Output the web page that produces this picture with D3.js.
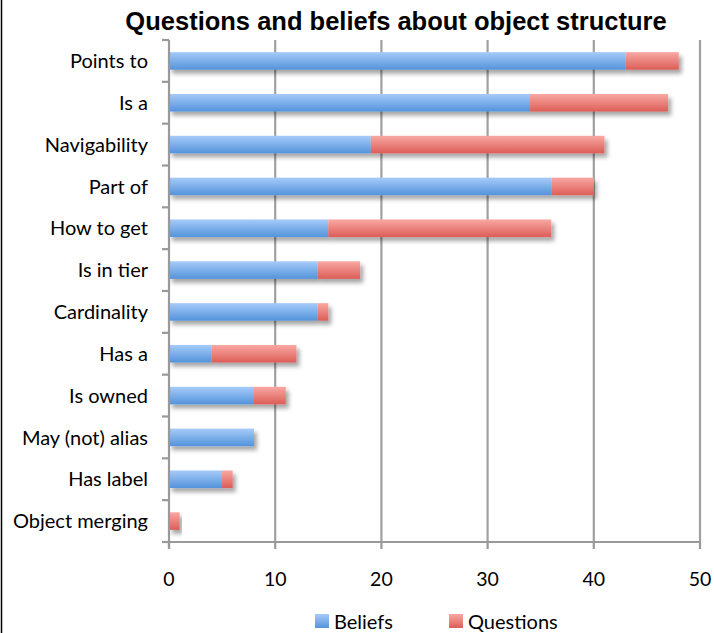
<!DOCTYPE html>
<html><head><meta charset="utf-8">
<script src="https://cdn.jsdelivr.net/npm/d3@7"></script>
<style>
html,body{margin:0;padding:0;background:#fff;}
svg{display:block;}
</style></head>
<body>
<script>
const categories = ["Points to","Is a","Navigability","Part of","How to get","Is in tier","Cardinality","Has a","Is owned","May (not) alias","Has label","Object merging"];
const beliefs =    [43, 34, 19, 36, 15, 14, 14, 4, 8, 8, 5, 0];
const questions =  [5, 13, 22, 4, 21, 4, 1, 8, 3, 0, 1, 1];
const seriesNames = ["Beliefs","Questions"];
const xTicks = [0,10,20,30,40,50];
const title = "Questions and beliefs about object structure";

const W = 714, H = 633;
const svg = d3.select("body").append("svg").attr("width", W).attr("height", H);
const defs = svg.append("defs");
function grad(id, c0, c1){
  const g = defs.append("linearGradient").attr("id", id).attr("x1",0).attr("y1",0).attr("x2",0).attr("y2",1);
  g.append("stop").attr("offset","0%").attr("stop-color", c0);
  g.append("stop").attr("offset","100%").attr("stop-color", c1);
}
grad("gBlue", "#a6cbfa", "#5393da");
grad("gRed", "#f9a8a3", "#dc5d57");
const f = defs.append("filter").attr("id","shadow").attr("x","-10%").attr("y","-50%").attr("width","130%").attr("height","250%");
f.append("feDropShadow").attr("dx",3).attr("dy",4).attr("stdDeviation",2.2).attr("flood-color","#000").attr("flood-opacity",0.35);

const pLeft = 169, pRight = 700, pTop = 40, pBottom = 542;
const x = d3.scaleLinear().domain([0,50]).range([pLeft,pRight]);
const y = d3.scaleBand().domain(categories).range([pTop,pBottom]).paddingInner(0.58).paddingOuter(0.29);

// left border frame line
svg.append("line").attr("x1",1.5).attr("x2",1.5).attr("y1",0).attr("y2",H).attr("stroke","#000").attr("stroke-width",1.5);

// title
svg.append("text").attr("x", 396).attr("y", 30).attr("text-anchor","middle")
  .attr("font-family","'Liberation Sans', Arial, sans-serif").attr("font-weight","bold").attr("font-size",25.5)
  .attr("fill","#000").text(title);

// gridlines
svg.append("g").selectAll("line").data(xTicks.slice(1)).join("line")
  .attr("x1", d=>x(d)).attr("x2", d=>x(d)).attr("y1", pTop).attr("y2", pBottom)
  .attr("stroke","#a0a0a0").attr("stroke-width",2.2);

// bars
const rows = svg.append("g").selectAll("g").data(categories).join("g").attr("filter","url(#shadow)");
rows.append("rect").attr("x", x(0)).attr("y", d=>y(d)).attr("height", y.bandwidth())
  .attr("width", (d,i)=>x(beliefs[i])-x(0)).attr("fill","url(#gBlue)");
rows.append("rect").attr("x", (d,i)=>x(beliefs[i])).attr("y", d=>y(d)).attr("height", y.bandwidth())
  .attr("width", (d,i)=>x(beliefs[i]+questions[i])-x(beliefs[i])).attr("fill","url(#gRed)");

// axes
const axisColor = "#999";
const bnds = categories.map((c,i)=> pTop + i*y.step()).concat([pBottom]);
svg.append("line").attr("x1", pLeft).attr("x2", pLeft).attr("y1", pTop).attr("y2", pBottom+7).attr("stroke",axisColor).attr("stroke-width",2.2);
svg.append("g").selectAll("line").data(bnds).join("line")
  .attr("x1", pLeft-7).attr("x2", pLeft).attr("y1", d=>d).attr("y2", d=>d).attr("stroke",axisColor).attr("stroke-width",2.2);
svg.append("line").attr("x1", pLeft-7).attr("x2", pRight).attr("y1", pBottom).attr("y2", pBottom).attr("stroke",axisColor).attr("stroke-width",2.2);
svg.append("g").selectAll("line").data(xTicks).join("line")
  .attr("x1", d=>x(d)).attr("x2", d=>x(d)).attr("y1", pBottom).attr("y2", pBottom+7).attr("stroke",axisColor).attr("stroke-width",2.2);

const lblFont = "Lato, 'Open Sans', sans-serif";
svg.append("g").selectAll("text").data(xTicks).join("text")
  .attr("x", d=>x(d)).attr("y", 586).attr("text-anchor","middle")
  .attr("font-family", lblFont).attr("font-size",19.5).attr("fill","#000").text(d=>d);

svg.append("g").selectAll("text").data(categories).join("text")
  .attr("x", 148).attr("y", d=>y(d)+y.bandwidth()/2).attr("dy","0.36em").attr("text-anchor","end")
  .attr("font-family", lblFont).attr("font-size",20).attr("fill","#000").text(d=>d);

// legend
const legX = [315, 449];
const leg = svg.append("g").selectAll("g").data(seriesNames).join("g")
  .attr("transform",(d,i)=>`translate(${legX[i]},614)`);
leg.append("rect").attr("width",14).attr("height",14).attr("fill",(d,i)=> i===0?"url(#gBlue)":"url(#gRed)");
leg.append("text").attr("x",19).attr("y",7).attr("dy","0.38em")
  .attr("font-family", lblFont).attr("font-size",20).attr("fill","#000").text(d=>d);
</script>
</body></html>
